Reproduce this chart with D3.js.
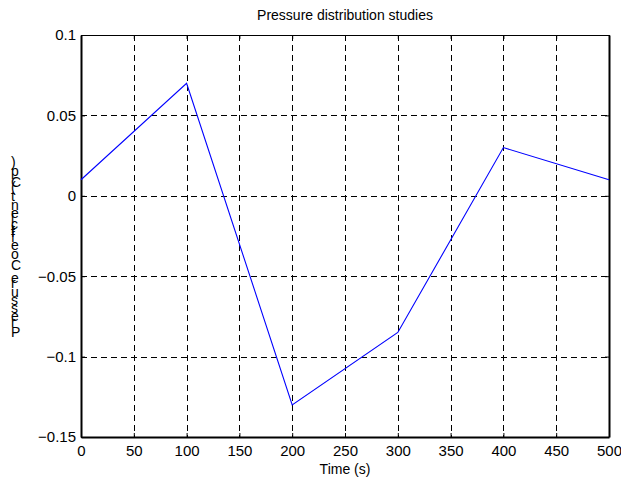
<!DOCTYPE html>
<html>
<head>
<meta charset="utf-8">
<script src="https://cdn.jsdelivr.net/npm/d3@7"></script>
<style>
  body { margin: 0; background: #fff; }
  svg { display: block; font-family: "Liberation Sans", Arial, sans-serif; }
</style>
</head>
<body>
<div id="chart"></div>
<script>
// ========= Data ========= //
const times = [0, 100, 200, 300, 400, 500];
const pressure = [0.01, 0.07, -0.13, -0.085, 0.03, 0.01];
const xTicks = [0, 50, 100, 150, 200, 250, 300, 350, 400, 450, 500];
const yTicks = [-0.15, -0.1, -0.05, 0, 0.05, 0.1];
const titleText = 'Pressure distribution studies';
const xLabel = 'Time (s)';
const yLabel = 'Pressure Coefficient (Cp)';

const width = 621;
const height = 479;
const margin = { top: 35, right: 12, bottom: 42, left: 81 };

const svg = d3.select('#chart').append('svg')
  .attr('width', width)
  .attr('height', height);

const x = d3.scaleLinear().domain([0, 500]).range([margin.left, width - margin.right]);
const y = d3.scaleLinear().domain([-0.15, 0.1]).range([height - margin.bottom, margin.top]);

// ========= Grid ========= //
const grid = svg.append('g').attr('class', 'grid')
  .attr('stroke', '#000')
  .attr('stroke-width', 1)
  .attr('stroke-dasharray', '6,4');

grid.selectAll('.vgrid')
  .data(xTicks.slice(1, -1))
  .join('line')
  .attr('x1', (d) => Math.round(x(d)) + 0.5)
  .attr('x2', (d) => Math.round(x(d)) + 0.5)
  .attr('y1', y(0.1))
  .attr('y2', y(-0.15));

grid.selectAll('.hgrid')
  .data(yTicks.slice(1, -1))
  .join('line')
  .attr('y1', (d) => Math.round(y(d)) + 0.5)
  .attr('y2', (d) => Math.round(y(d)) + 0.5)
  .attr('x1', x(0))
  .attr('x2', x(500));

// ========= Axes ========= //
const fmt = (d) => d3.format('')(+d.toFixed(2));

const xAxis = svg.append('g')
  .attr('transform', `translate(0,${y(-0.15)})`)
  .call(d3.axisBottom(x).tickValues(xTicks).tickSizeInner(-4).tickSizeOuter(0).tickPadding(8).tickFormat(fmt));

const yAxis = svg.append('g')
  .attr('transform', `translate(${x(0)},0)`)
  .call(d3.axisLeft(y).tickValues(yTicks).tickSizeInner(-4).tickSizeOuter(0).tickPadding(5).tickFormat(fmt));

const topAxis = svg.append('g')
  .attr('transform', `translate(0,${y(0.1)})`)
  .call(d3.axisTop(x).tickValues(xTicks).tickSizeInner(-4).tickSizeOuter(0).tickFormat(''));

svg.append('g')
  .attr('transform', `translate(${x(500)},0)`)
  .call(d3.axisRight(y).tickValues(yTicks).tickSizeInner(-4).tickSizeOuter(0).tickFormat(''));

svg.selectAll('.domain').attr('stroke', '#000').attr('stroke-width', 2);
topAxis.select('.domain').attr('stroke-width', 1.2);
svg.selectAll('.tick line').attr('stroke', '#000');
svg.selectAll('.tick text')
  .attr('fill', '#000')
  .attr('font-size', 15)
  .attr('font-family', '"Liberation Sans", Arial, sans-serif');

xAxis.selectAll('.tick text').attr('dy', '0.71em');

// ========= Line ========= //
const line = d3.line()
  .x((d, i) => x(times[i]))
  .y((d) => y(d));

svg.append('path')
  .datum(pressure)
  .attr('fill', 'none')
  .attr('stroke', '#0000ff')
  .attr('stroke-width', 1.1)
  .attr('d', line);

// ========= Titles ========= //
const cx = (x(0) + x(500)) / 2;

svg.append('text')
  .attr('x', cx)
  .attr('y', 20)
  .attr('text-anchor', 'middle')
  .attr('font-size', 14)
  .text(titleText);

svg.append('text')
  .attr('x', cx)
  .attr('y', 474)
  .attr('text-anchor', 'middle')
  .attr('font-size', 14)
  .text(xLabel);

// y label: glyphs stay upright, stacked bottom to top along the rotated baseline
const probe = svg.append('text').attr('font-size', 14).attr('visibility', 'hidden');
const chars = yLabel.split('');
let offset = 0;
const positions = chars.map((c) => {
  probe.text(c === ' ' ? '\u00a0' : c);
  const w = probe.node().getComputedTextLength();
  const p = offset;
  offset += w;
  return p;
});
probe.remove();

const yBase = 337;
const spanScale = 170 / positions[positions.length - 1];

svg.append('g').attr('class', 'ylabel')
  .selectAll('text')
  .data(chars)
  .join('text')
  .attr('x', 11)
  .attr('y', (d, i) => yBase - positions[i] * spanScale)
  .attr('font-size', 14)
  .text((d) => d);
</script>
</body>
</html>
